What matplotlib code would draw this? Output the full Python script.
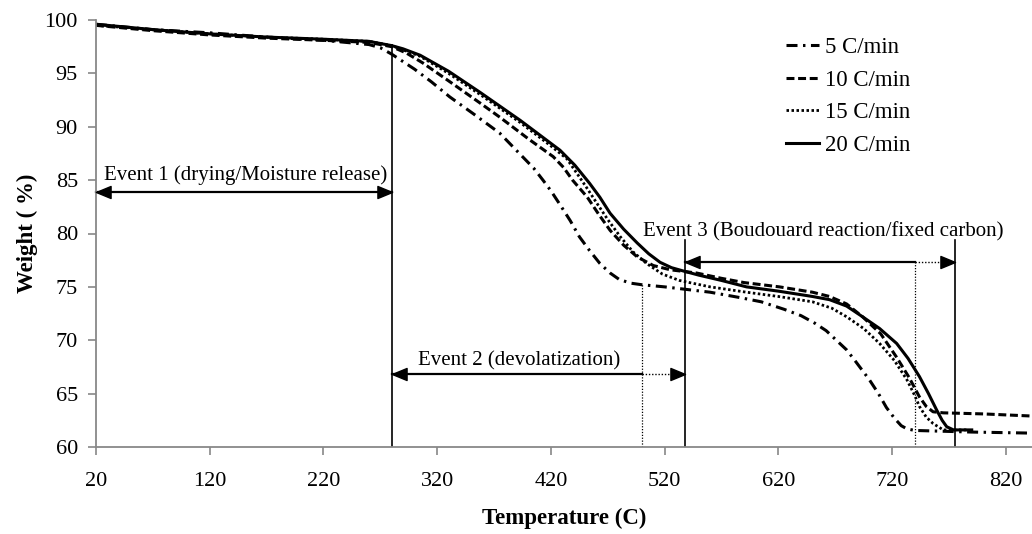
import matplotlib
matplotlib.use("Agg")
import matplotlib.pyplot as plt
from matplotlib.path import Path

plt.rcParams['font.family'] = ['Liberation Serif', 'DejaVu Serif']

# Thermogravimetric curves: temperature (C) and remaining weight (%)
t_5 = [20, 70, 120, 170, 220, 260, 270, 280, 290, 300, 315, 331, 352, 375, 395, 405, 413, 420,
       428, 437, 445, 454, 463, 472, 480, 490, 500, 520, 536, 560, 586, 605, 625, 640, 652, 662,
       672, 680, 688, 700, 708, 715, 722, 728, 733, 740, 790, 843]
w_5 = [99.6, 99.1, 98.8, 98.4, 98.1, 97.7, 97.4, 96.8, 96.1, 95.4, 94.2, 92.8, 91.2, 89.4, 87.2, 86.1, 85.0, 84.0,
       82.7, 81.2, 79.7, 78.4, 77.2, 76.3, 75.7, 75.35, 75.2, 75.0, 74.8, 74.5, 74.0, 73.6, 72.9, 72.3, 71.6, 70.9,
       69.9, 69.1, 68.0, 66.3, 65.0, 63.7, 62.7, 62.0, 61.7, 61.55, 61.4, 61.3]

t_10 = [20, 70, 120, 170, 220, 260, 280, 293, 307, 330, 358, 375, 401, 422, 431, 439, 452, 462,
        472, 484, 496, 510, 525, 548, 570, 590, 621, 650, 665, 680, 694, 710, 724, 735, 744, 750,
        756, 765, 800, 843]
w_10 = [99.5, 99.0, 98.6, 98.3, 98.1, 97.9, 97.5, 96.9, 96.0, 94.3, 92.2, 90.9, 88.8, 87.2, 86.2, 85.0, 83.4, 81.8,
        80.3, 78.9, 77.8, 77.0, 76.6, 76.3, 75.8, 75.4, 75.0, 74.5, 74.1, 73.4, 72.2, 70.6, 68.4, 66.5, 64.7, 63.8,
        63.3, 63.2, 63.1, 62.9]

t_15 = [20, 70, 120, 170, 220, 260, 280, 305, 330, 358, 393, 420, 434, 445, 452, 460, 470, 481,
        492, 504, 518, 533, 560, 592, 620, 650, 667, 680, 695, 709, 722, 733, 740, 744, 750, 756,
        765, 786]
w_15 = [99.5, 99.1, 98.7, 98.4, 98.2, 98.0, 97.6, 96.6, 95.0, 93.0, 90.4, 88.2, 87.0, 85.3, 84.2, 82.9, 81.3, 79.7,
        78.3, 77.2, 76.2, 75.6, 75.0, 74.5, 74.1, 73.6, 73.0, 72.2, 71.1, 69.7, 68.1, 66.3, 64.8, 63.8, 62.8, 62.2,
        61.6, 61.6]

t_20 = [20, 70, 120, 170, 220, 260, 280, 290, 305, 330, 358, 393, 428, 441, 454, 463, 472, 484,
        496, 506, 516, 526, 536, 550, 570, 592, 620, 650, 665, 680, 694, 709, 724, 734, 744, 752,
        759, 764, 768, 774, 790]
w_20 = [99.6, 99.1, 98.7, 98.4, 98.2, 98.0, 97.6, 97.3, 96.7, 95.2, 93.2, 90.6, 87.8, 86.4, 84.7, 83.4, 81.9, 80.4,
        79.1, 78.1, 77.3, 76.8, 76.5, 76.1, 75.6, 75.0, 74.6, 74.1, 73.8, 73.2, 72.2, 71.1, 69.7, 68.3, 66.6, 65.0,
        63.5, 62.5, 61.9, 61.6, 61.6]

labels = ['5 C/min', '10 C/min', '15 C/min', '20 C/min']

x_ticks = [20, 120, 220, 320, 420, 520, 620, 720, 820]
y_ticks = [60, 65, 70, 75, 80, 85, 90, 95, 100]

# Event boundaries (C) and their annotation levels (%)
event_bounds = [280, 538, 775]
event_tops = [97.7, 79.4, 79.4]
dotted_marks = [500, 740]
dotted_tops = [75.3, 77.3]
arrow_levels = [83.9, 66.8, 77.3]
event_texts = ['Event 1 (drying/Moisture release)',
               'Event 2 (devolatization)',
               'Event 3 (Boudouard reaction/fixed carbon)']
text_pos = [(27, 85.0), (303, 67.6), (501, 79.7)]

fig = plt.figure(figsize=(10.32, 5.34), dpi=100)
ax = fig.add_axes([96 / 1032, 1 - 447 / 534, 936 / 1032, 427 / 534])

ax.plot(t_5, w_5, color='black', lw=2.2, linestyle=(0, (3.6, 1.8, 0.8, 1.8)), label=labels[0])
ax.plot(t_10, w_10, color='black', lw=2.2, linestyle=(0, (2.6, 1.2)), label=labels[1])
ax.plot(t_15, w_15, color='black', lw=2.0, linestyle=(0, (0.9, 0.9)), label=labels[2])
ax.plot(t_20, w_20, color='black', lw=2.2, linestyle='-', label=labels[3])

# Event boundary lines
for xb, top in zip(event_bounds, event_tops):
    ax.plot([xb, xb], [60, top], color='black', lw=1.2)
for xd, top in zip(dotted_marks, dotted_tops):
    ax.plot([xd, xd], [60, top], color='black', lw=0.9, linestyle=(0, (1, 1.3)))

# Arrowhead markers with the tip at the origin
head_right = Path([(0, 0), (-1.5, 0.62), (-1.5, -0.62), (0, 0)],
                  [Path.MOVETO, Path.LINETO, Path.LINETO, Path.CLOSEPOLY])
head_left = Path([(0, 0), (1.5, 0.62), (1.5, -0.62), (0, 0)],
                 [Path.MOVETO, Path.LINETO, Path.LINETO, Path.CLOSEPOLY])
hs = dict(color='black', markersize=21, linestyle='none', clip_on=False, zorder=5)

# Event 1 arrow
y1 = arrow_levels[0]
ax.plot([20, 280], [y1, y1], color='black', lw=1.6, clip_on=False)
ax.plot([20], [y1], marker=head_left, **hs)
ax.plot([280], [y1], marker=head_right, **hs)

# Event 2 arrow
y2 = arrow_levels[1]
ax.plot([280, 500], [y2, y2], color='black', lw=1.6)
ax.plot([500, 528], [y2, y2], color='black', lw=1.0, linestyle=(0, (1, 1.3)))
ax.plot([280], [y2], marker=head_left, **hs)
ax.plot([538], [y2], marker=head_right, **hs)

# Event 3 arrow
y3 = arrow_levels[2]
ax.plot([538, 740], [y3, y3], color='black', lw=1.6)
ax.plot([740, 765], [y3, y3], color='black', lw=1.0, linestyle=(0, (1, 1.3)))
ax.plot([538], [y3], marker=head_left, **hs)
ax.plot([775], [y3], marker=head_right, **hs)

for txt, (tx, ty) in zip(event_texts, text_pos):
    ax.text(tx, ty, txt, fontsize=15, ha='left', va='baseline', color='black')

ax.set_xlim(20, 843)
ax.set_ylim(60, 100)
ax.set_xticks(x_ticks)
ax.set_yticks(y_ticks)
ax.tick_params(axis='both', direction='out', length=6, width=1.2, color='#888888',
               labelsize=16, labelcolor='black')
ax.tick_params(axis='x', pad=12)
ax.tick_params(axis='y', pad=7)
for side in ['top', 'right']:
    ax.spines[side].set_visible(False)
for side in ['left', 'bottom']:
    ax.spines[side].set_color('#888888')
    ax.spines[side].set_linewidth(1.3)

ax.set_xlabel('Temperature (C)', fontsize=16.5, fontweight='bold', labelpad=12)
ax.set_ylabel('Weight ( %)', fontsize=16.5, fontweight='bold', labelpad=5)

leg = ax.legend(loc='upper left', bbox_to_anchor=(786 / 1032, 1 - 37 / 534),
                bbox_transform=fig.transFigure, frameon=False, fontsize=16.5,
                handlelength=1.45, handletextpad=0.25, labelspacing=0.5,
                borderpad=0, borderaxespad=0)

fig.savefig('out.png', dpi=100)
